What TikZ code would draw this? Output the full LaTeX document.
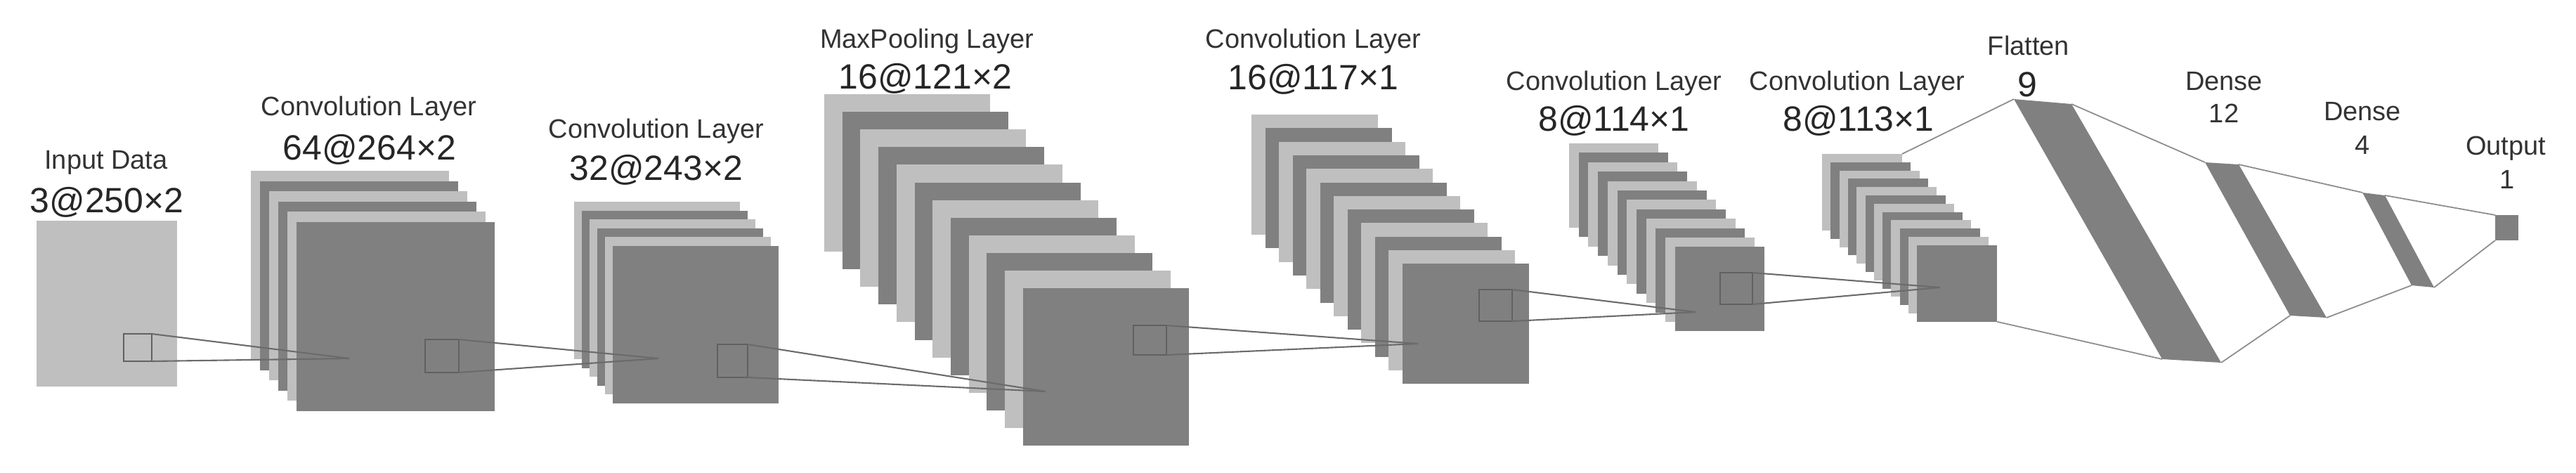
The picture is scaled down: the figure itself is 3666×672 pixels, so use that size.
\documentclass[tikz,border=0pt]{standalone}
\usepackage{fontspec}
\setmainfont{Liberation Sans}
\usepackage{tikz}
\definecolor{fmlight}{gray}{0.75}
\definecolor{fmdark}{gray}{0.5}
\newcommand{\fmaps}[8]{%
  \foreach \i in {1,...,#6}{%
    \ifodd\i \def\fmcol{fmlight}\else \def\fmcol{fmdark}\fi
    \fill[\fmcol] ({#2+(\i-1)*#7},{#3+(\i-1)*#8}) rectangle ++(#4,#5);
  }%
  \coordinate (#1-bk) at ({#2+#4},#3);
  \coordinate (#1-fr) at ({#2+(#6-1)*#7+#4},{#3+(#6-1)*#8+#5});
}
\newcommand{\kernbox}[5]{%
  \draw[kernel] (#2,#3) rectangle (#4,#5);
  \coordinate (#1-t) at (#4,#3);
  \coordinate (#1-b) at (#4,#5);
}
\tikzset{
  smalllbl/.style={anchor=base, inner sep=0pt, text=black!80, font=\fontsize{10.8}{13}\selectfont},
  biglbl/.style={anchor=base, inner sep=0pt, text=black!85, font=\fontsize{14.2}{17}\selectfont},
  kernel/.style={draw=black!62, line width=0.6pt},
  link/.style={draw=black!58, line width=0.6pt},
  flink/.style={draw=black!45, line width=0.5pt}
}
\begin{document}
\begin{tikzpicture}[x=0.01cm, y=-0.01cm]
\useasboundingbox (0,0) rectangle (3666,672);
\fill[fmlight] (52,314) rectangle (252,550);
\fmaps{cA}{357}{243}{282}{269}{6}{13}{14.6}
\fmaps{cB}{817}{287}{236}{224}{6}{11}{12.6}
\fmaps{mp}{1173}{134}{236}{224}{12}{25.7}{25.1}
\fmaps{cC}{1781}{163}{180}{171}{12}{19.5}{19.3}
\fmaps{cD}{2233}{204}{127}{120}{12}{13.7}{13.4}
\fmaps{cE}{2593}{219}{114}{109}{12}{12.3}{11.8}

\kernbox{k0}{176}{475}{216}{514}
\kernbox{k1}{605}{483}{653}{530}
\kernbox{k2}{1021}{490}{1064}{537}
\kernbox{k3}{1613}{463}{1660}{505}
\kernbox{k4}{2105}{412}{2152}{457}
\kernbox{k5}{2448}{388}{2494}{433}
\coordinate (p1) at (497,510);
\coordinate (p2) at (937,510);
\coordinate (p3) at (1488,557);
\coordinate (p4) at (2018,489);
\coordinate (p5) at (2413,444);
\coordinate (p6) at (2761,409);
\foreach \a/\b in {k0/p1,k1/p2,k2/p3,k3/p4,k4/p5,k5/p6}{
  \draw[link] (\a-t) -- (\b);
  \draw[link] (\a-b) -- (\b);
}

\coordinate (fl1) at (2866,141); \coordinate (fl2) at (2948,148);
\coordinate (fl3) at (3161,516); \coordinate (fl4) at (3077,511);
\coordinate (da1) at (3138,231); \coordinate (da2) at (3186,234);
\coordinate (da3) at (3311,452); \coordinate (da4) at (3259,449);
\coordinate (db1) at (3362,274); \coordinate (db2) at (3394,278);
\coordinate (db3) at (3464,409); \coordinate (db4) at (3432,406);
\coordinate (ou1) at (3551,306); \coordinate (ou4) at (3551,342);
\fill[fmdark] (fl1) -- (fl2) -- (fl3) -- (fl4) -- cycle;
\fill[fmdark] (da1) -- (da2) -- (da3) -- (da4) -- cycle;
\fill[fmdark] (db1) -- (db2) -- (db3) -- (db4) -- cycle;
\fill[fmdark] (ou1) rectangle (3584,342);
\draw[flink] (cE-bk) -- (fl1) (cE-fr) -- (fl4);
\draw[flink] (fl2) -- (da1) (fl3) -- (da4);
\draw[flink] (da2) -- (db1) (da3) -- (db4);
\draw[flink] (db2) -- (ou1) (db3) -- (ou4);

\node[smalllbl] (inS) at (151,240) {Input Data};
\node[biglbl] (inB) at (152,302) {3@250×2};
\node[smalllbl] (cAS) at (525,164) {Convolution Layer};
\node[biglbl] (cAB) at (526,227) {64@264×2};
\node[smalllbl] (cBS) at (934,196) {Convolution Layer};
\node[biglbl] (cBB) at (934,256) {32@243×2};
\node[smalllbl] (mpS) at (1319,68) {MaxPooling Layer};
\node[biglbl] (mpB) at (1317,126) {16@121×2};
\node[smalllbl] (cCS) at (1869,68) {Convolution Layer};
\node[biglbl] (cCB) at (1869,127) {16@117×1};
\node[smalllbl] (cDS) at (2297,128) {Convolution Layer};
\node[biglbl] (cDB) at (2297,186) {8@114×1};
\node[smalllbl] (cES) at (2643,128) {Convolution Layer};
\node[biglbl] (cEB) at (2645,186) {8@113×1};
\node[smalllbl] (flS) at (2887,78) {Flatten};
\node[biglbl] (flB) at (2885,137) {9};
\node[smalllbl] (daS) at (3165,128) {Dense};
\node[smalllbl] (daB) at (3165,174) {12};
\node[smalllbl] (dbS) at (3362,171) {Dense};
\node[smalllbl] (dbB) at (3362,219) {4};
\node[smalllbl] (ouS) at (3566,220) {Output};
\node[smalllbl] (ouB) at (3568,268) {1};
\end{tikzpicture}
\end{document}
